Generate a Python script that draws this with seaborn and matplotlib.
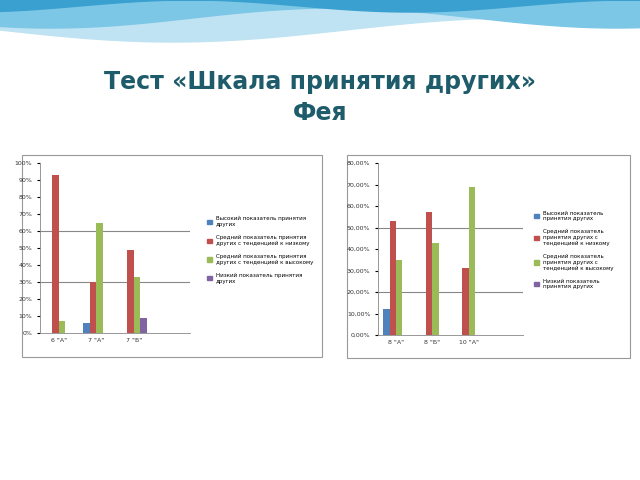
import matplotlib
matplotlib.use("Agg")
import matplotlib.pyplot as plt
import seaborn as sns
import pandas as pd
import numpy as np
import textwrap
from matplotlib.patches import Rectangle

series = ["Высокий показатель принятия других",
          "Средний показатель принятия других с тенденцией к низкому",
          "Средний показатель принятия других с тенденцией к высокому",
          "Низкий показатель принятия других"]
colors = ["#4F81BD", "#C0504D", "#9BBB59", "#8064A2"]

left_classes = ['6 "А"', '7 "А"', '7 "Б"']
left_high = [0, 6, 0]
left_midlow = [93, 30, 49]
left_midhigh = [7, 65, 33]
left_low = [0, 0, 9]

right_classes = ['8 "А"', '8 "Б"', '10 "А"']
right_high = [12, 0, 0]
right_midlow = [53, 57, 31]
right_midhigh = [35, 43, 69]
right_low = [0, 0, 0]

def frame(classes, vals):
    rows = []
    for s, v in zip(series, vals):
        for c, x in zip(classes, v):
            rows.append({"class": c, "series": s, "value": x})
    return pd.DataFrame(rows)

fig = plt.figure(figsize=(6.4, 4.8), dpi=100)
fig.patch.set_facecolor("white")

bg = fig.add_axes([0, 0, 1, 1]); bg.set_xlim(0, 640); bg.set_ylim(480, 0); bg.axis("off")
xs = np.linspace(0, 640, 200)
bg.fill_between(xs, 0, 30 + 12*np.sin(xs/110), color="#BFE3F2")
bg.fill_between(xs, 0, 18 + 10*np.sin(xs/90 + 1), color="#7CC6E6")
bg.fill_between(xs, 0, 6 + 6*np.sin(xs/70 + 2), color="#3AA0D0")
bg.text(320, 82, "Тест «Шкала принятия других»", ha="center", va="center",
        fontsize=17, fontweight="bold", color="#1F5C6B", family="DejaVu Sans")
bg.text(320, 113, "Фея", ha="center", va="center",
        fontsize=17, fontweight="bold", color="#1F5C6B", family="DejaVu Sans")
bg.add_patch(Rectangle((22, 155), 300, 202, fill=False, ec="#999999", lw=0.8))
bg.add_patch(Rectangle((347, 155), 283, 203, fill=False, ec="#999999", lw=0.8))

def draw(rect, classes, vals, ymax, yticks, grid, fmt, legrect, wrap):
    ax = fig.add_axes(rect)
    df = frame(classes, vals)
    sns.barplot(data=df, x="class", y="value", hue="series", palette=colors,
                ax=ax, width=0.7, legend=False, saturation=1)
    ax.set_xlim(-0.5, 3.5)
    ax.set_ylim(0, ymax)
    ax.set_yticks(yticks)
    ax.set_yticklabels([fmt(t) for t in yticks], fontsize=4.5, color="#333333")
    ax.tick_params(axis="x", labelsize=4.5, length=0, colors="#333333")
    ax.tick_params(axis="y", length=2)
    for g in grid:
        ax.axhline(g, color="#888888", lw=0.8, zorder=0)
    ax.set_xlabel(""); ax.set_ylabel("")
    for s in ["top", "right"]:
        ax.spines[s].set_visible(False)
    for s in ["left", "bottom"]:
        ax.spines[s].set_color("#888888"); ax.spines[s].set_linewidth(0.6)
    lax = fig.add_axes(legrect); lax.axis("off")
    handles = [Rectangle((0, 0), 1, 1, color=c) for c in colors]
    labels = [textwrap.fill(s, wrap) for s in series]
    lax.legend(handles, labels, loc="center left", fontsize=4, frameon=False,
               handlelength=0.8, handleheight=0.8, labelspacing=1.4, borderaxespad=0)

draw([40/640, 1-333/480, 150/640, 170/480], left_classes,
     [left_high, left_midlow, left_midhigh, left_low], 100,
     list(range(0, 101, 10)), [30, 60], lambda t: f"{t}%",
     [205/640, 1-320/480, 110/640, 140/480], 30)
draw([378/640, 1-335/480, 145/640, 172/480], right_classes,
     [right_high, right_midlow, right_midhigh, right_low], 80,
     list(range(0, 81, 10)), [20, 50], lambda t: f"{t:.2f}%".replace(".", ","),
     [532/640, 1-320/480, 95/640, 140/480], 25)

fig.savefig("out.png", dpi=100, facecolor="white")
